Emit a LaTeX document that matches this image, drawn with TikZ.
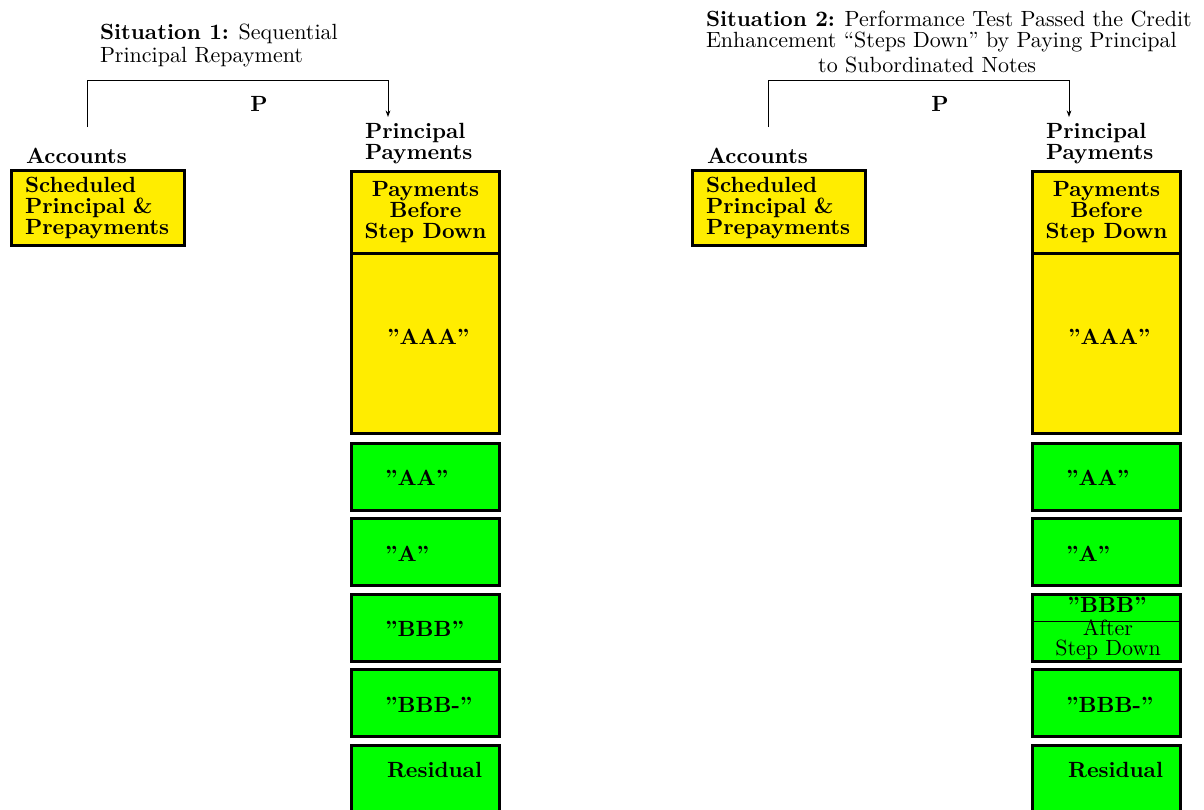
\documentclass[tikz,border=0pt]{standalone}
\usetikzlibrary{arrows.meta,calc}
\definecolor{tieryellow}{RGB}{255,237,0}
\definecolor{tiergreen}{RGB}{0,255,0}
% one drawing unit
\newcommand{\pxu}{0.4545pt}
\begin{document}
\begin{tikzpicture}[x=\pxu,y=-\pxu,
  every node/.style={font=\fontsize{10}{9.55}\selectfont, inner sep=0pt, outer sep=0pt},
  bold/.style={font=\fontsize{10}{9.55}\selectfont\bfseries},
  box/.style={draw=black, line width=1.36pt, rectangle, minimum width=148*\pxu},
  ybox/.style={box, fill=tieryellow},
  gbox/.style={box, fill=tiergreen},
  tiertext/.style={anchor=west, bold},
  heading/.style={anchor=base west, align=left, bold},
  flow/.style={line width=0.45pt, -{Stealth[length=3pt,width=2.2pt]}}
]
\useasboundingbox (0,0) rectangle (1204,809);

% one panel per situation, the second shifted to the right
\foreach \dx/\sfx in {0/a,681/b}{
  \begin{scope}[xshift=\dx*\pxu]
    % source account
    \node[heading] (acclbl\sfx) at (26,163) {Accounts};
    \node[ybox, bold, minimum width=173*\pxu, minimum height=75*\pxu,
          align=left, text width=146*\pxu]
      (acc\sfx) at (98,208) {Scheduled\\Principal \&\\Prepayments};
    % principal waterfall column
    \node[heading] (pplbl\sfx) at (365,159) {Principal\\Payments};
    \node[ybox, bold, minimum height=81.5*\pxu, align=center]
      (pay\sfx) at (425.5,212.25) {Payments\\Before\\Step Down};
    \node[ybox, minimum height=180*\pxu] (aaa\sfx) at (425.5,343) {};
    \node[gbox, minimum height=67*\pxu] (aa\sfx) at (425.5,476.5) {};
    \node[gbox, minimum height=67*\pxu] (a\sfx) at (425.5,552) {};
    \node[gbox, minimum height=67*\pxu] (bbb\sfx) at (425.5,627.5) {};
    \node[gbox, minimum height=67*\pxu] (bbbm\sfx) at (425.5,703) {};
    \node[gbox, minimum height=95*\pxu] (res\sfx) at (425.5,793) {};
    % tier names
    \node[tiertext] (aaat\sfx) at (387,337) {"AAA"};
    \node[tiertext] (aat\sfx) at (385,477.5) {"AA"};
    \node[tiertext] (at\sfx) at (385,554) {"A"};
    \node[tiertext] (bbbmt\sfx) at (385,704.5) {"BBB-"};
    \node[tiertext] (rest\sfx) at (387,770) {Residual};
    % principal flow
    \coordinate (src\sfx) at (87,127);
    \coordinate (dst\sfx) at (388,117);
    \draw[flow] (src\sfx) -- ++(0,-47) -| (dst\sfx);
    \node[bold] (p\sfx) at (259,103.5) {P};
  \end{scope}
}

% situation 1: the "BBB" tier is paid in sequence
\node[tiertext] (bbbta) at (385,629) {"BBB"};
% situation 2: the "BBB" tier also receives principal after step down
\draw[line width=0.45pt] (bbbb.west |- 0,621) -- (bbbb.east |- 0,621);
\node[bold] (bbbtb) at (1107,605) {"BBB"};
\node[align=center, font=\fontsize{10}{9.1}\selectfont] (afterb) at (1108,640) {After\\Step Down};

% headings
\node[anchor=base west, align=left] (sit1) at (100,62)
  {\textbf{Situation 1:} Sequential\\[0.9pt]Principal Repayment};
\node[anchor=base west, align=left] (sit2) at (706,72)
  {\textbf{Situation 2:} Performance Test Passed the Credit\\
   Enhancement ``Steps Down'' by Paying Principal\\[1.8pt]
   \hspace*{51pt}to Subordinated Notes};
\end{tikzpicture}
\end{document}
